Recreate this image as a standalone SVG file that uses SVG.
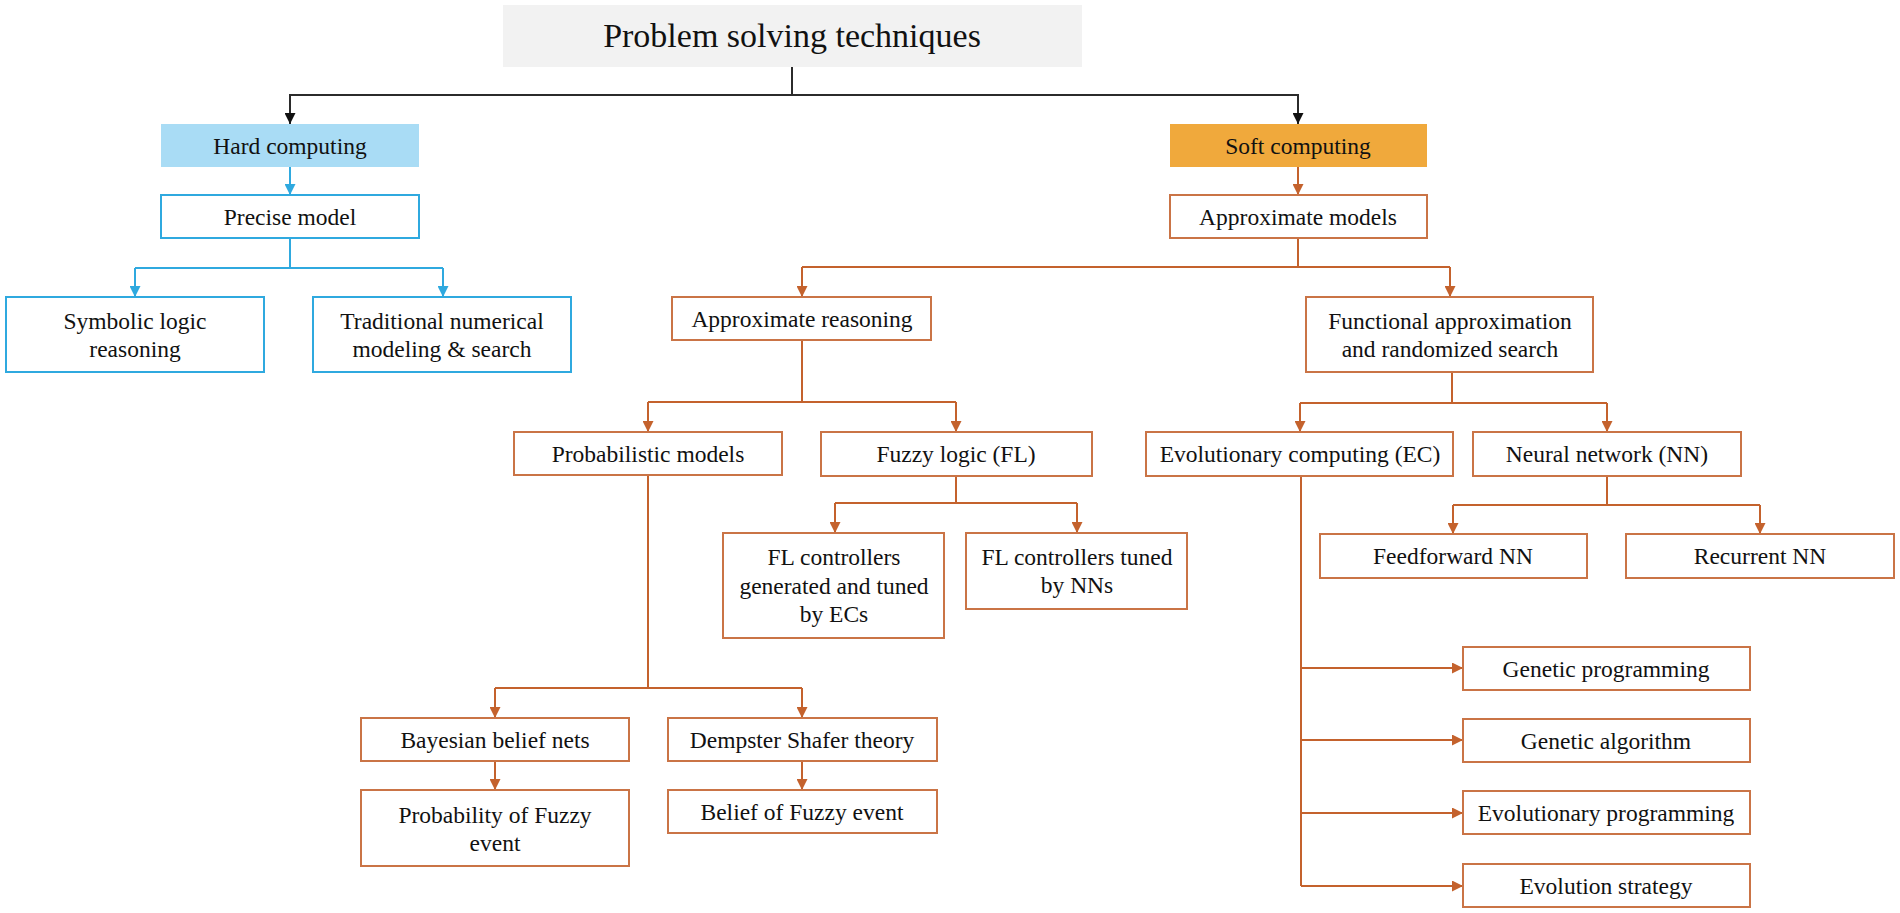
<svg xmlns="http://www.w3.org/2000/svg" width="1900" height="913" viewBox="0 0 1900 913">
<defs>
<style>
text{font-family:"Liberation Serif","Times New Roman",serif;font-size:23.5px;fill:#111;text-anchor:middle}
.title{font-size:34px}
.bx{fill:#fff;stroke:#ca7446;stroke-width:2}
.bb{fill:#fff;stroke:#2fa9df;stroke-width:2}
.ck{fill:none;stroke:#2b2b2b;stroke-width:2}
.cb{fill:none;stroke:#2fa9df;stroke-width:2}
.co{fill:none;stroke:#c4622d;stroke-width:2}
.ak{marker-end:url(#mk)}
.ab{marker-end:url(#mb)}
.ao{marker-end:url(#mo)}
</style>
<marker id="mk" viewBox="0 0 10 10" refX="10" refY="5" markerWidth="11" markerHeight="11" markerUnits="userSpaceOnUse" orient="auto"><path d="M0,0 L10,5 L0,10 z" fill="#111"/></marker>
<marker id="mb" viewBox="0 0 10 10" refX="10" refY="5" markerWidth="11" markerHeight="11" markerUnits="userSpaceOnUse" orient="auto"><path d="M0,0 L10,5 L0,10 z" fill="#2fa9df"/></marker>
<marker id="mo" viewBox="0 0 10 10" refX="10" refY="5" markerWidth="11" markerHeight="11" markerUnits="userSpaceOnUse" orient="auto"><path d="M0,0 L10,5 L0,10 z" fill="#c4622d"/></marker>
</defs>
<rect width="1900" height="913" fill="#fff"/>

<g id="connectors">
<path class="ck" d="M792,67 V95 M289,95 H1299"/>
<path class="ck ak" d="M290,95 V124"/>
<path class="ck ak" d="M1298,95 V124"/>

<path class="cb ab" d="M290,167 V195"/>
<path class="cb" d="M290,238 V268 M135,268 H443"/>
<path class="cb ab" d="M135,268 V297"/>
<path class="cb ab" d="M443,268 V297"/>

<path class="co ao" d="M1298,167 V195"/>
<path class="co" d="M1298,238 V267 M802,267 H1450"/>
<path class="co ao" d="M802,267 V297"/>
<path class="co ao" d="M1450,267 V297"/>

<path class="co" d="M802,340 V402 M648,402 H956"/>
<path class="co ao" d="M648,402 V432"/>
<path class="co ao" d="M956,402 V432"/>

<path class="co" d="M1452,372 V403 M1300,403 H1607"/>
<path class="co ao" d="M1300,403 V432"/>
<path class="co ao" d="M1607,403 V432"/>

<path class="co" d="M956,476 V503 M835,503 H1077"/>
<path class="co ao" d="M835,503 V533"/>
<path class="co ao" d="M1077,503 V533"/>

<path class="co" d="M1607,476 V505 M1453,505 H1760"/>
<path class="co ao" d="M1453,505 V534"/>
<path class="co ao" d="M1760,505 V534"/>

<path class="co" d="M648,475 V688 M495,688 H802"/>
<path class="co ao" d="M495,688 V718"/>
<path class="co ao" d="M802,688 V718"/>
<path class="co ao" d="M495,761 V790"/>
<path class="co ao" d="M802,761 V790"/>

<path class="co" d="M1301,476 V886"/>
<path class="co ao" d="M1301,668 H1463"/>
<path class="co ao" d="M1301,740 H1463"/>
<path class="co ao" d="M1301,813 H1463"/>
<path class="co ao" d="M1301,886 H1463"/>
</g>

<g id="n-root"><rect x="503" y="5" width="579" height="62" fill="#f2f2f2"/><text class="title" x="792" y="47">Problem solving techniques</text></g>

<g id="n-hard"><rect x="161" y="124" width="258" height="43" fill="#a9dcf5"/><text x="290" y="154">Hard computing</text></g>
<g id="n-precise"><rect class="bb" x="161" y="195" width="258" height="43"/><text x="290" y="225">Precise model</text></g>
<g id="n-symbolic"><rect class="bb" x="6" y="297" width="258" height="75"/><text x="135" y="329">Symbolic logic</text><text x="135" y="357">reasoning</text></g>
<g id="n-traditional"><rect class="bb" x="313" y="297" width="258" height="75"/><text x="442" y="329">Traditional numerical</text><text x="442" y="357">modeling &amp; search</text></g>

<g id="n-soft"><rect x="1170" y="124" width="257" height="43" fill="#f0a93c"/><text x="1298" y="154">Soft computing</text></g>
<g id="n-approxmodels"><rect class="bx" x="1170" y="195" width="257" height="43"/><text x="1298" y="225">Approximate models</text></g>
<g id="n-approxreasoning"><rect class="bx" x="672" y="297" width="259" height="43"/><text x="802" y="327">Approximate reasoning</text></g>
<g id="n-functional"><rect class="bx" x="1306" y="297" width="287" height="75"/><text x="1450" y="329">Functional approximation</text><text x="1450" y="357">and randomized search</text></g>

<g id="n-probabilistic"><rect class="bx" x="514" y="432" width="268" height="43"/><text x="648" y="462">Probabilistic models</text></g>
<g id="n-fuzzy"><rect class="bx" x="821" y="432" width="271" height="44"/><text x="956" y="462">Fuzzy logic (FL)</text></g>
<g id="n-ec"><rect class="bx" x="1146" y="432" width="307" height="44"/><text x="1300" y="462">Evolutionary computing (EC)</text></g>
<g id="n-nn"><rect class="bx" x="1473" y="432" width="268" height="44"/><text x="1607" y="462">Neural network (NN)</text></g>

<g id="n-flgen"><rect class="bx" x="723" y="533" width="221" height="105"/><text x="834" y="565">FL controllers</text><text x="834" y="594">generated and tuned</text><text x="834" y="622">by ECs</text></g>
<g id="n-fltuned"><rect class="bx" x="966" y="533" width="221" height="76"/><text x="1077" y="565">FL controllers tuned</text><text x="1077" y="593">by NNs</text></g>
<g id="n-feedforward"><rect class="bx" x="1320" y="534" width="267" height="44"/><text x="1453" y="564">Feedforward NN</text></g>
<g id="n-recurrent"><rect class="bx" x="1626" y="534" width="268" height="44"/><text x="1760" y="564">Recurrent NN</text></g>

<g id="n-bayesian"><rect class="bx" x="361" y="718" width="268" height="43"/><text x="495" y="748">Bayesian belief nets</text></g>
<g id="n-dempster"><rect class="bx" x="668" y="718" width="269" height="43"/><text x="802" y="748">Dempster Shafer theory</text></g>
<g id="n-probability"><rect class="bx" x="361" y="790" width="268" height="76"/><text x="495" y="823">Probability of Fuzzy</text><text x="495" y="851">event</text></g>
<g id="n-belief"><rect class="bx" x="668" y="790" width="269" height="43"/><text x="802" y="820">Belief of Fuzzy event</text></g>

<g id="n-gp"><rect class="bx" x="1463" y="647" width="287" height="43"/><text x="1606" y="677">Genetic programming</text></g>
<g id="n-ga"><rect class="bx" x="1463" y="719" width="287" height="43"/><text x="1606" y="749">Genetic algorithm</text></g>
<g id="n-ep"><rect class="bx" x="1463" y="791" width="287" height="43"/><text x="1606" y="821">Evolutionary programming</text></g>
<g id="n-es"><rect class="bx" x="1463" y="864" width="287" height="43"/><text x="1606" y="894">Evolution strategy</text></g>
</svg>
